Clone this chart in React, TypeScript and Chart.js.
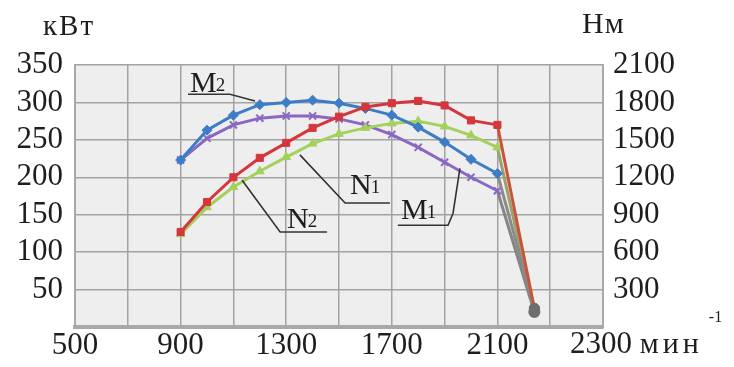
import React, { useEffect, useRef } from "react";
import { Chart, registerables } from "chart.js";

Chart.register(...registerables);

// ---- Data ----
const rpm = [900, 1000, 1100, 1200, 1300, 1400, 1500, 1600, 1700, 1800, 1900, 2000, 2100, 2240];
// Power, kW (left axis)
const powerN1 = [127, 167, 200, 226, 246, 266, 281, 294, 299, 302, 296, 276, 270, 25];
const powerN2 = [124, 160, 187, 208, 227, 245, 258, 266, 272, 275, 268, 256, 240, 22];
// Torque, N·m (right axis)
const torqueM2 = [1338, 1578, 1698, 1782, 1800, 1818, 1794, 1752, 1698, 1602, 1482, 1344, 1230, 150];
const torqueM1 = [1338, 1512, 1620, 1674, 1692, 1692, 1668, 1620, 1542, 1440, 1320, 1200, 1092, 120];

const xGridValues = [500, 700, 900, 1100, 1300, 1500, 1700, 1900, 2100, 2300, 2500];
const xLabelValues = [500, 900, 1300, 1700, 2100];
const leftTicks = [0, 50, 100, 150, 200, 250, 300, 350];
const rightTicks = [0, 300, 600, 900, 1200, 1500, 1800, 2100];

const leftTitle = "кВт";
const rightTitle = "Нм";
const lastXLabel = "2300";
const xUnit = "мин";
const xUnitSup = "-1";

// curve labels (anchored in data units: rpm, kW)
const curveLabels = [
  { main: "M", sub: "2", text: [936, 314], line: [[928, 311], [1087, 311], [1182, 302]] },
  { main: "N", sub: "1", text: [1542, 178], line: [[1693, 165.6], [1523, 165.6], [1352, 230]] },
  { main: "N", sub: "2", text: [1303, 132], line: [[1455, 127], [1277, 127], [1133, 196]] },
  { main: "M", sub: "1", text: [1735, 144], line: [[1723, 136], [1913, 136], [1932, 152], [1958, 212]] },
];

const FONT = "'Liberation Serif', 'Times New Roman', serif";
const TXT = "#1e1e1e";
const GRID = "#a2a2a2";

const last = rpm.length - 1;

const bgPlugin = {
  id: "plotBg",
  beforeDraw(chart: any) {
    const { ctx, chartArea } = chart;
    ctx.save();
    ctx.fillStyle = "#ffffff";
    ctx.fillRect(0, 0, chart.width, chart.height);
    ctx.fillStyle = "#eeeeee";
    ctx.fillRect(chartArea.left, chartArea.top, chartArea.right - chartArea.left, chartArea.bottom - chartArea.top);
    ctx.restore();
  },
};

const textPlugin = {
  id: "texts",
  afterDatasetsDraw(chart: any) {
    const { ctx } = chart;
    const sx = chart.scales.x;
    const sy = chart.scales.yL;
    const P = (v: number[]) => [sx.getPixelForValue(v[0]), sy.getPixelForValue(v[1])];
    ctx.save();
    for (const lab of curveLabels) {
      ctx.strokeStyle = "#333";
      ctx.lineWidth = 1.6;
      ctx.beginPath();
      lab.line.forEach((pt, i) => {
        const [px, py] = P(pt);
        if (i === 0) ctx.moveTo(px, py);
        else ctx.lineTo(px, py);
      });
      ctx.stroke();
      const [tx, ty] = P(lab.text);
      ctx.fillStyle = TXT;
      ctx.textAlign = "left";
      ctx.textBaseline = "alphabetic";
      ctx.font = `30px ${FONT}`;
      ctx.fillText(lab.main, tx, ty);
      const w = ctx.measureText(lab.main).width;
      ctx.font = `19px ${FONT}`;
      ctx.fillText(lab.sub, tx + w - 1, ty - 1);
    }
    ctx.restore();
  },
  afterDraw(chart: any) {
    const { ctx, chartArea } = chart;
    const sx = chart.scales.x;
    ctx.save();
    ctx.fillStyle = TXT;
    ctx.textBaseline = "alphabetic";
    ctx.textAlign = "left";
    (ctx as any).letterSpacing = "2px";
    ctx.font = `29px ${FONT}`;
    ctx.fillText(leftTitle, 43, chartArea.top - 30);
    (ctx as any).letterSpacing = "1px";
    ctx.font = `30px ${FONT}`;
    ctx.fillText(rightTitle, chartArea.right - 21, chartArea.top - 32);
    (ctx as any).letterSpacing = "0px";
    const x0 = sx.getPixelForValue(xGridValues[xGridValues.length - 1]) - 33;
    const yb = chartArea.bottom + 26;
    ctx.font = `31px ${FONT}`;
    ctx.fillText(lastXLabel, x0, yb);
    let w = ctx.measureText(lastXLabel + " ").width;
    (ctx as any).letterSpacing = "4px";
    ctx.font = `30px ${FONT}`;
    ctx.fillText(xUnit, x0 + w, yb);
    w += ctx.measureText(xUnit).width;
    (ctx as any).letterSpacing = "0px";
    ctx.font = `16px ${FONT}`;
    ctx.fillText(xUnitSup, x0 + w + 6, yb - 31);
    ctx.restore();
  },
};

function pts(ys: number[]) {
  return rpm.map((x, i) => ({ x, y: ys[i] }));
}

export default function App() {
  const ref = useRef<HTMLCanvasElement | null>(null);

  useEffect(() => {
    if (!ref.current) return;
    const mk = (label: string, data: number[], axis: string, color: string, style: string, lastSeg: string) => ({
      label,
      data: pts(data),
      yAxisID: axis,
      borderColor: color,
      backgroundColor: color,
      borderWidth: 3,
      tension: 0,
      pointStyle: (c: any) => (c.dataIndex === last ? "circle" : style),
      pointRadius: 5,
      pointBackgroundColor: (c: any) => (c.dataIndex === last ? "#6e6e6e" : color),
      pointBorderColor: (c: any) => (c.dataIndex === last ? "#6e6e6e" : color),
      pointBorderWidth: style === "crossRot" ? 2 : 1,
      segment: {
        borderColor: (c: any) => (c.p1DataIndex === last ? lastSeg : undefined),
      },
    });

    const chart = new Chart(ref.current, {
      type: "line",
      data: {
        datasets: [
          mk("N1", powerN1, "yL", "#d4363c", "rect", "#c8553a"),
          mk("M2", torqueM2, "yR", "#3d7cc6", "rectRot", "#8a8a8a"),
          mk("N2", powerN2, "yL", "#a3d15a", "triangle", "#9aa070"),
          mk("M1", torqueM1, "yR", "#8a68c2", "crossRot", "#858585"),
        ] as any,
      },
      options: {
        animation: false,
        responsive: false,
        devicePixelRatio: 1,
        layout: { padding: { top: 65, left: 0, right: 0, bottom: 0 } },
        plugins: { legend: { display: false }, tooltip: { enabled: false } },
        scales: {
          x: {
            type: "linear",
            min: 500,
            max: 2500,
            afterBuildTicks: (s: any) => {
              s.ticks = xGridValues.map((v) => ({ value: v }));
            },
            afterFit: (s: any) => {
              s.height = 40;
            },
            grid: { color: GRID, lineWidth: 1.5, drawTicks: false },
            border: { display: true, color: "#a8a8a8", width: 4 },
            ticks: {
              autoSkip: false,
              maxRotation: 0,
              padding: 0,
              color: TXT,
              font: { family: FONT, size: 31 },
              callback: (v: any) => (xLabelValues.includes(Number(v)) ? String(v) : ""),
            },
          },
          yL: {
            type: "linear",
            position: "left",
            min: 0,
            max: 350,
            afterBuildTicks: (s: any) => {
              s.ticks = leftTicks.map((v) => ({ value: v }));
            },
            afterFit: (s: any) => {
              s.width = 75;
            },
            grid: { color: GRID, lineWidth: 1.5, drawTicks: false },
            border: { display: true, color: "#a8a8a8", width: 2 },
            ticks: {
              autoSkip: false,
              padding: 12,
              color: TXT,
              font: { family: FONT, size: 31 },
              callback: (v: any) => (Number(v) === 0 ? "" : String(v)),
            },
          },
          yR: {
            type: "linear",
            position: "right",
            min: 0,
            max: 2100,
            afterBuildTicks: (s: any) => {
              s.ticks = rightTicks.map((v) => ({ value: v }));
            },
            afterFit: (s: any) => {
              s.width = 131;
            },
            grid: { drawOnChartArea: false, drawTicks: false },
            border: { display: true, color: "#a8a8a8", width: 2 },
            ticks: {
              autoSkip: false,
              padding: 10,
              color: TXT,
              font: { family: FONT, size: 31 },
              callback: (v: any) => (Number(v) === 0 ? "" : String(v)),
            },
          },
        },
      } as any,
      plugins: [bgPlugin, textPlugin],
    });
    return () => chart.destroy();
  }, []);

  return (
    <div style={{ position: "fixed", left: 0, top: 0, width: 734, height: 367, background: "#fff" }}>
      <canvas ref={ref} width={734} height={367} style={{ display: "block", width: 734, height: 367 }} />
    </div>
  );
}
